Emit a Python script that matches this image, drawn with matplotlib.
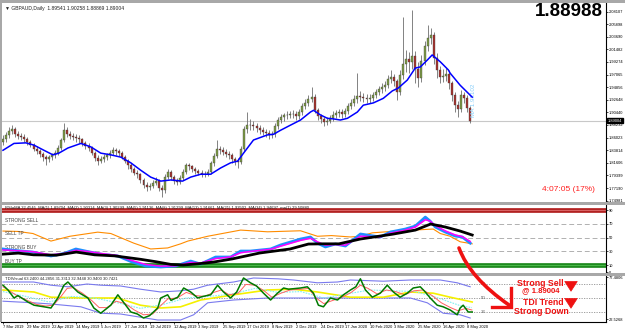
import numpy as np
import matplotlib.pyplot as plt
from matplotlib.patches import Rectangle, PathPatch
from matplotlib.path import Path
import matplotlib.transforms as mtransforms

plt.rcParams['font.family'] = ['Liberation Sans', 'DejaVu Sans']

### candles, one per two trading days (GBPAUD daily)
first_open = 1.852
close = [1.858, 1.865, 1.872, 1.876, 1.866, 1.863, 1.862, 1.857, 1.853, 1.847,
         1.841, 1.837, 1.831, 1.827, 1.822, 1.826, 1.829, 1.834, 1.842, 1.856,
         1.874, 1.867, 1.863, 1.862, 1.859, 1.857, 1.850, 1.845, 1.842, 1.834,
         1.825, 1.820, 1.823, 1.826, 1.829, 1.834, 1.838, 1.836, 1.833, 1.827,
         1.820, 1.812, 1.805, 1.799, 1.796, 1.786, 1.778, 1.774, 1.776, 1.781,
         1.785, 1.772, 1.768, 1.792, 1.800, 1.791, 1.785, 1.783, 1.790, 1.800,
         1.812, 1.810, 1.805, 1.801, 1.799, 1.796, 1.797, 1.800, 1.815, 1.828,
         1.840, 1.838, 1.835, 1.832, 1.829, 1.822, 1.819, 1.818, 1.840, 1.875,
         1.882, 1.883, 1.880, 1.877, 1.873, 1.870, 1.868, 1.864, 1.866, 1.880,
         1.891, 1.896, 1.899, 1.900, 1.901, 1.902, 1.898, 1.905, 1.915, 1.921,
         1.928, 1.932, 1.908, 1.898, 1.893, 1.888, 1.890, 1.895, 1.900, 1.903,
         1.905, 1.901, 1.906, 1.915, 1.921, 1.927, 1.933, 1.932, 1.930, 1.928,
         1.929, 1.934, 1.940, 1.945, 1.948, 1.952, 1.962, 1.967, 1.960, 1.940,
         1.970, 1.990, 1.998, 1.992, 2.003, 1.980, 1.965, 1.995, 2.020, 2.035,
         2.040, 2.000, 1.978, 1.966, 1.968, 1.972, 1.955, 1.935, 1.918, 1.910,
         1.935, 1.930, 1.912, 1.890]
high = [1.864, 1.870, 1.878, 1.882, 1.879, 1.872, 1.868, 1.866, 1.861, 1.856,
        1.851, 1.846, 1.840, 1.835, 1.830, 1.830, 1.834, 1.839, 1.847, 1.860,
        1.886, 1.879, 1.872, 1.869, 1.866, 1.864, 1.860, 1.855, 1.850, 1.846,
        1.837, 1.829, 1.828, 1.831, 1.834, 1.838, 1.843, 1.842, 1.840, 1.837,
        1.830, 1.823, 1.816, 1.809, 1.804, 1.799, 1.790, 1.782, 1.781, 1.786,
        1.792, 1.788, 1.777, 1.797, 1.806, 1.803, 1.795, 1.790, 1.795, 1.805,
        1.816, 1.815, 1.813, 1.809, 1.806, 1.803, 1.802, 1.806, 1.820, 1.833,
        1.856, 1.846, 1.843, 1.840, 1.837, 1.833, 1.827, 1.825, 1.845, 1.880,
        1.905, 1.892, 1.889, 1.885, 1.882, 1.878, 1.876, 1.873, 1.872, 1.885,
        1.896, 1.901, 1.904, 1.906, 1.907, 1.908, 1.906, 1.910, 1.920, 1.927,
        1.934, 1.949, 1.936, 1.912, 1.902, 1.897, 1.896, 1.900, 1.906, 1.909,
        1.911, 1.910, 1.912, 1.920, 1.927, 1.934, 1.973, 1.942, 1.938, 1.936,
        1.936, 1.940, 1.946, 1.951, 1.955, 1.960, 1.970, 1.978, 1.972, 1.963,
        1.978, 2.071, 2.014, 2.010, 2.084, 2.012, 1.992, 2.005, 2.030, 2.057,
        2.052, 2.045, 2.008, 1.985, 1.980, 1.982, 1.978, 1.960, 1.940, 1.925,
        1.943, 1.940, 1.935, 1.916]
low = [1.848, 1.852, 1.860, 1.866, 1.861, 1.857, 1.856, 1.852, 1.848, 1.843,
       1.837, 1.832, 1.826, 1.820, 1.812, 1.817, 1.821, 1.825, 1.830, 1.838,
       1.852, 1.862, 1.858, 1.856, 1.853, 1.851, 1.845, 1.840, 1.836, 1.829,
       1.820, 1.813, 1.815, 1.818, 1.821, 1.824, 1.830, 1.830, 1.828, 1.822,
       1.815, 1.806, 1.800, 1.794, 1.790, 1.780, 1.772, 1.766, 1.768, 1.772,
       1.777, 1.766, 1.756, 1.764, 1.787, 1.786, 1.779, 1.777, 1.779, 1.786,
       1.796, 1.804, 1.800, 1.796, 1.794, 1.791, 1.791, 1.793, 1.797, 1.811,
       1.825, 1.832, 1.829, 1.826, 1.823, 1.816, 1.812, 1.807, 1.814, 1.836,
       1.869, 1.874, 1.873, 1.870, 1.867, 1.864, 1.862, 1.858, 1.859, 1.862,
       1.876, 1.886, 1.890, 1.893, 1.894, 1.895, 1.891, 1.893, 1.900, 1.910,
       1.916, 1.922, 1.903, 1.891, 1.886, 1.880, 1.882, 1.885, 1.890, 1.894,
       1.897, 1.895, 1.896, 1.901, 1.910, 1.915, 1.921, 1.924, 1.922, 1.920,
       1.921, 1.924, 1.929, 1.934, 1.939, 1.942, 1.947, 1.956, 1.950, 1.926,
       1.935, 1.962, 1.975, 1.973, 1.980, 1.955, 1.949, 1.958, 1.988, 2.012,
       2.025, 1.990, 1.965, 1.955, 1.958, 1.960, 1.945, 1.925, 1.905, 1.896,
       1.905, 1.920, 1.905, 1.886]

### blue moving average on price (bar index, price)
ma_idx = [0, 7.2, 15, 20.3, 26.8, 32.7, 36.6, 42.5, 51, 57.5, 64, 70.6, 77.1, 83.7,
          90.2, 96.7, 103.3, 109.8, 117.6, 122.9, 129.4, 135.9, 142.5, 149, 153.6,
          157.5, 164, 173.2, 177.1, 181.7, 188.2, 194.8, 201.3, 203.3, 207.8, 212.4,
          216.3, 220.9, 225.5, 232, 235.9, 242.5, 249, 254.9, 258.8, 264.7, 269.9,
          273.2, 277.8, 281.0, 286.3, 291.5, 292.8, 299.3, 307.2]
ma_val = [1.838, 1.850, 1.851, 1.847, 1.838, 1.830, 1.833, 1.842, 1.850, 1.844, 1.833,
          1.830, 1.826, 1.816, 1.803, 1.791, 1.784, 1.786, 1.784, 1.791, 1.796, 1.796,
          1.807, 1.816, 1.819, 1.833, 1.856, 1.865, 1.866, 1.873, 1.882, 1.891, 1.905,
          1.908, 1.900, 1.894, 1.893, 1.891, 1.894, 1.905, 1.917, 1.921, 1.929, 1.942,
          1.947, 1.961, 1.982, 1.984, 1.996, 2.005, 1.993, 1.979, 1.973, 1.952, 1.931]

price_ticks = [1.74981, 1.77190, 1.79399, 1.81606, 1.83814, 1.86023, 1.88232, 1.90440,
               1.92648, 1.94856, 1.97065, 1.99274, 2.01482, 2.03690, 2.05898, 2.08107]
last_price = 1.89004

### RSI panel
rsi_idx = [0, 9.8, 19.6, 31.4, 40, 47.7, 55, 64, 75.2, 84, 93.5, 103.3, 113, 122.9,
           129.4, 139.2, 149, 155.6, 162, 175.2, 181.7, 194.8, 201.3, 205.9, 211.1,
           217.6, 224.2, 234, 247, 253.6, 263.4, 270, 276.5, 279.7, 283, 289.5, 296,
           300.7, 305.9]
rsi_fast = [33.5, 31, 29, 23.3, 27, 33.5, 30, 26, 23.3, 15, 8.7, 7.3, 8.7, 15.9, 11.6,
            21.8, 21.8, 30.5, 30.5, 33.5, 39.3, 48, 50.9, 42, 36.4, 40.7, 37.8, 55.3,
            50.9, 58.2, 62.5, 66.9, 79.9, 74, 65.5, 58.2, 52.4, 50.9, 42]
rsi_slow = [32, 31, 29.5, 25, 27, 31.5, 30, 27, 24, 17, 11, 8.5, 9, 14, 13, 19.5, 22, 28,
            30, 33, 37.5, 46, 49, 44, 39, 40, 39, 52, 51, 56.5, 61, 65.5, 76, 74, 67.5,
            60, 54, 51.5, 44.5]
orange_idx = [0, 9.8, 19.6, 31.4, 43.8, 62, 70.6, 85.6, 96.7, 107.8, 116.3, 121, 134,
              155.6, 173.2, 194.8, 205.9, 215, 227.5, 234, 241.8, 260, 281.7, 286.3,
              292.8, 299.3, 307.2]
orange_val = [59.6, 59, 56, 45, 52, 58, 56, 42, 33.5, 35, 41, 45, 52, 61, 58.5, 60, 52,
              53, 51, 52, 57, 60, 62.5, 56, 52, 44, 41]
black_idx = [0, 10, 20, 35, 48, 60, 73, 90, 100, 110, 118, 128, 138, 150, 168, 188, 200,
             210, 220, 234, 255, 270, 280, 289.5, 299.3, 307.2]
black_val = [26, 27.5, 25, 24.5, 29, 25, 23.5, 18.5, 15, 11, 10.2, 12, 14.5, 19, 27.6,
             33.5, 40.7, 41, 41, 48, 55, 61, 69.8, 65.5, 59.6, 53.8]
rsi_levels = [70, 50, 30]
zone_labels = ['STRONG SELL', 'SELL TP', 'STRONG BUY', 'BUY TP']
zone_label_y = [72, 52, 32, 12]

### TDI panel
green_idx = [0, 3.3, 7.2, 9.8, 16.3, 20.3, 26.8, 31.4, 35.9, 39.9, 42.5, 45, 49, 55.6,
             59.5, 64, 70.6, 75.2, 78, 83.7, 88, 92, 96, 101.3, 103.3, 107.8, 110, 114.4,
             118.3, 122.9, 127.5, 131, 136, 140.5, 144.4, 149, 153, 157.5, 162, 166,
             170.6, 175.2, 179.7, 183.7, 187, 194.8, 199.3, 203.3, 206.5, 209.8, 214.4,
             219, 222.9, 227.5, 231, 234, 237.3, 241.8, 247, 251.6, 255.6, 260, 264.7,
             268.6, 273.2, 276.5, 279.7, 284.3, 288.2, 292.8, 297.4, 299.3, 301.3, 304.6,
             307.2]
green_val = [66, 60, 50, 53, 45, 41, 39, 37.5, 50, 66, 70, 65, 57.5, 50, 37.5, 31, 41, 54,
             47, 32.5, 30, 25, 28, 37.5, 50, 54, 47, 51, 62.5, 57.5, 50, 52, 54, 66, 57.5,
             50, 57.5, 75, 69, 65, 56, 47.5, 56, 62.5, 61, 62.5, 64, 56, 41, 39, 50, 47.5,
             54, 60, 64, 74, 60, 51, 56, 66, 57.5, 51, 56, 62.5, 64, 57.5, 50, 41, 39, 35,
             29, 37.5, 41, 32.5, 32.5]
red_idx = [0, 5, 10, 16, 22, 28, 33, 38, 42, 46, 52, 58, 63, 68, 74, 80, 86, 92, 98, 103,
           108, 114, 120, 126, 132, 138, 143, 148, 154, 159, 165, 171, 176, 182, 188, 195,
           200, 205, 210, 216, 222, 228, 234, 239, 245, 251, 257, 263, 269, 275, 281, 287,
           293, 298, 303, 307]
red_val = [64, 58, 52, 47, 42, 40, 41, 52, 62, 63, 56, 47, 38, 38, 46, 43, 35, 29, 30, 40,
           49, 50, 57, 53, 52, 57, 60, 54, 56, 67, 66, 59, 51, 56, 60, 61, 62, 50, 43, 47,
           51, 57, 66, 62, 55, 60, 58, 54, 59, 60, 53, 44, 38, 34, 37, 35]
cyan_idx = [0, 15, 30, 45, 60, 75, 90, 105, 120, 135, 150, 165, 180, 195, 210, 225, 240,
            255, 270, 285, 300, 307]
cyan_val = [58, 52, 45, 52, 50, 44, 37, 42, 50, 52, 55, 62, 57, 58, 50, 55, 60, 59, 58,
            50, 40, 38]
yellow_idx = [0, 20.3, 31.4, 53, 75, 90, 103.3, 116.3, 129.4, 151, 173.2, 190.2, 205.9,
              227.5, 249, 266.7, 281.7, 292.8, 307.2]
yellow_val = [60, 57.5, 51, 50, 50, 41, 37.5, 39, 47.5, 54, 60, 61, 57.5, 51, 51, 57.5,
              56, 51, 45]
band_up_idx = [0, 20, 31.4, 42.5, 55, 64, 77, 90, 103.3, 116.3, 124.8, 134, 151, 164, 180,
               190.2, 205.9, 219, 227.5, 249, 266.7, 286.3, 297.4, 305.9]
band_up_val = [70, 70, 66, 64, 67.5, 66, 65, 61, 57.5, 59, 61, 66, 70, 75, 74, 72.5, 69,
               70, 72.5, 71, 72.5, 72.5, 69, 64]
band_lo_idx = [0, 20, 31.4, 51, 64, 77, 90, 101.3, 116.3, 124.8, 134, 151, 173.2, 190.2,
               205.9, 227.5, 249, 266.7, 277.8, 288.2, 299.3, 305.9]
band_lo_val = [46, 44, 42.5, 39, 31, 30, 26, 22.5, 22.5, 29, 44, 47.5, 50, 50, 50, 50, 50,
               50, 44, 31, 29, 25]
tdi_levels = [68, 50, 32]

date_labels = ['7 Mar 2019', '29 Mar 2019', '22 Apr 2019', '14 May 2019', '5 Jun 2019',
               '27 Jun 2019', '19 Jul 2019', '12 Aug 2019', '3 Sep 2019', '25 Sep 2019',
               '17 Oct 2019', '8 Nov 2019', '2 Dec 2019', '24 Dec 2019', '17 Jan 2020',
               '10 Feb 2020', '3 Mar 2020', '25 Mar 2020', '16 Apr 2020', '8 May 2020']

### figure and panels
W, H = 625, 332
fig = plt.figure(figsize=(6.25, 3.32), dpi=100)
fig.patch.set_facecolor('white')

def panel(top, bottom):
    return fig.add_axes([1 / W, (H - bottom) / H, 605 / W, (bottom - top) / H])

ax1 = panel(3, 202)
ax2 = panel(205, 272)
ax3 = panel(276, 322)
xlim = (-1.3, 394.8)
for ax in (ax1, ax2, ax3):
    ax.set_xlim(*xlim)
    ax.set_facecolor('white')
    for s in ('left', 'top', 'bottom'):
        ax.spines[s].set_visible(False)
    ax.spines['right'].set_color('black')
    ax.spines['right'].set_linewidth(0.8)
    ax.yaxis.tick_right()
    ax.tick_params(axis='y', labelsize=2.9, length=1.5, width=0.5, pad=0.8, colors='black')
    ax.tick_params(axis='x', bottom=False, labelbottom=False)

### main chart
opens = [first_open] + close[:-1]
pos = np.arange(len(close)) * 2
o = np.array(opens)
c = np.array(close)
up = c >= o
ax1.vlines(pos, low, high, color='#6e6e6e', lw=0.6, zorder=2)
ax1.bar(pos[up], (c - o)[up], bottom=o[up], width=1.3, color='#7e9c45',
        edgecolor='#3a3a3a', linewidth=0.25, zorder=3)
ax1.bar(pos[~up], (c - o)[~up], bottom=o[~up], width=1.3, color='#a8322d',
        edgecolor='#3a3a3a', linewidth=0.25, zorder=3)
ax1.plot(ma_idx, ma_val, color='#0000ff', lw=1.1, zorder=4)
ax1.axhline(last_price, color='#c8c8c8', lw=0.8, zorder=1)
ax1.set_ylim(1.7474, 2.0960)
ax1.set_yticks(price_ticks)
ax1.set_yticklabels(['%.5f' % t for t in price_ticks])
tr = mtransforms.blended_transform_factory(ax1.transAxes, ax1.transData)
ax1.text(1.003, last_price, '%.5f' % last_price, transform=tr, fontsize=2.9,
         color='white', va='center', ha='left',
         bbox=dict(boxstyle='square,pad=0.12', fc='black', ec='black'))
ax1.text(0.006, 0.985, '\u25bc GBPAUD,Daily  1.89541 1.90258 1.88869 1.89004',
         transform=ax1.transAxes, fontsize=3.6, va='top', ha='left', color='#202020')
ax1.text(0.995, 0.955, '1.88988', transform=ax1.transAxes, fontsize=13.5,
         fontweight='bold', va='center', ha='right', color='black')
ax1.text(0.981, 0.065, '4:07:05 (17%)', transform=ax1.transAxes, fontsize=6,
         va='center', ha='right', color='#ff2020')
ax1.text(308, 1.925, 'MA 1.93102', rotation=90, fontsize=4.5, color='#87cefa',
         va='center', ha='center')

### RSI panel
ax2.set_ylim(0, 97.5)
for lv in rsi_levels:
    ax2.axhline(lv, color='#b0b0b0', lw=0.7, ls=(0, (5, 3)), zorder=1)
ax2.axhline(90, color='#b22222', lw=3.4, zorder=2)
ax2.axhline(90, color='#e07070', lw=0.6, zorder=2)
ax2.axhline(10, color='#1f8a1f', lw=3.4, zorder=2)
ax2.axhline(10, color='#50c050', lw=0.6, zorder=2)
ax2.plot(orange_idx, orange_val, color='#ff8c00', lw=0.8, zorder=3)
ax2.fill_between(rsi_idx, rsi_fast, rsi_slow, color='#ff9cf0', zorder=3, lw=0)
ax2.plot(rsi_idx, rsi_fast, color='#1e90ff', lw=2.0, zorder=4)
ax2.plot(rsi_idx, rsi_slow, color='#ff00ff', lw=1.1, zorder=5)
ax2.plot(black_idx, black_val, color='black', lw=2.0, zorder=6)
ax2.set_yticks([0, 10, 30, 50, 70, 90])
for lab, yv in zip(zone_labels, zone_label_y):
    ax2.text(1, yv, lab, fontsize=3.4, color='#404040', va='bottom', ha='left')
ax2.text(1, 96, 'RSIoMA 32.4545  MA(1) 1.89704  MA(2) 1.90314  MA(3) 1.90299  MA(5) 1.91136  '
         'MA(8) 1.91299  MA(13) 1.91661  MA(21) 1.93502  MA(34) 1.94697  ma(1) 29.50880',
         fontsize=3.0, color='#202020', va='top', ha='left')

### TDI panel
ax3.set_ylim(20, 77.5)
for lv in tdi_levels:
    ax3.axhline(lv, color='#909090', lw=0.6, ls=(0, (1.5, 1.5)), zorder=1)
    ax3.text(313, lv, str(lv), fontsize=3.2, color='#606060', va='center', ha='left')
ax3.plot(band_up_idx, band_up_val, color='#7a7aee', lw=0.8, zorder=2)
ax3.plot(band_lo_idx, band_lo_val, color='#7a7aee', lw=0.8, zorder=2)
ax3.plot(yellow_idx, yellow_val, color='#f5f000', lw=1.2, zorder=3)
ax3.plot(cyan_idx, cyan_val, color='#80f0f0', lw=0.8, ls=(0, (1.5, 1)), zorder=3)
ax3.plot(red_idx, red_val, color='#ff6060', lw=0.7, zorder=4)
ax3.plot(green_idx, green_val, color='#007a00', lw=1.1, zorder=5)
ax3.set_yticks([23.5, 76.0])
ax3.set_yticklabels(['22.5268', '77.4806'])
ax3.text(1, 76.5, 'TDIVisual 63.2400 44.2856 31.3313 32.9448 30.9400 30.7421',
         fontsize=3.0, color='#202020', va='top', ha='left')
ax3.spines['bottom'].set_visible(True)
ax3.spines['bottom'].set_color('black')
ax3.spines['bottom'].set_linewidth(0.8)
ax3.tick_params(axis='x', bottom=True, labelbottom=True, labelsize=2.9, length=1.5,
                width=0.5, pad=1)
ax3.set_xticks(np.arange(len(date_labels)) * 16)
ax3.set_xticklabels(date_labels, ha='left')

### overlay in pixel coordinates: window separators and red annotation
ov = fig.add_axes([0, 0, 1, 1], zorder=10)
ov.set_xlim(0, W)
ov.set_ylim(H, 0)
ov.axis('off')
ov.patch.set_alpha(0)
for y0, h in ((0, 2.5), (202, 3), (272.5, 3)):
    ov.add_patch(Rectangle((0, y0), W, h, color='#a8a8a8', lw=0))
ov.add_patch(Rectangle((0, 0), 1.5, 322, color='#a8a8a8', lw=0))

red = '#ee1111'
curve = Path([(459, 248), (470, 278), (509, 305)], [Path.MOVETO, Path.CURVE3, Path.CURVE3])
ov.add_patch(PathPatch(curve, fc='none', ec=red, lw=2.6, capstyle='round'))
ov.plot([511, 511, 492], [288, 307, 307], color=red, lw=2.4, solid_joinstyle='miter')

ov.text(540, 283.5, 'Strong Sell', fontsize=6.3, color=red, ha='center', va='center',
        fontweight='bold')
ov.text(541, 291, '@ 1.89004', fontsize=5.6, color=red, ha='center', va='center',
        fontweight='bold')
ov.text(543, 302.5, 'TDI Trend', fontsize=6.3, color=red, ha='center', va='center',
        fontweight='bold')
ov.text(541, 312, 'Strong Down', fontsize=6.3, color=red, ha='center', va='center',
        fontweight='bold')
for ya, yb in ((282, 294), (299, 311)):
    ov.annotate('', xy=(571, yb), xytext=(571, ya),
                arrowprops=dict(arrowstyle='simple,head_width=0.9,head_length=0.7,tail_width=0.35',
                                fc=red, ec=red, lw=0.5))

fig.savefig('out.png', dpi=100)
